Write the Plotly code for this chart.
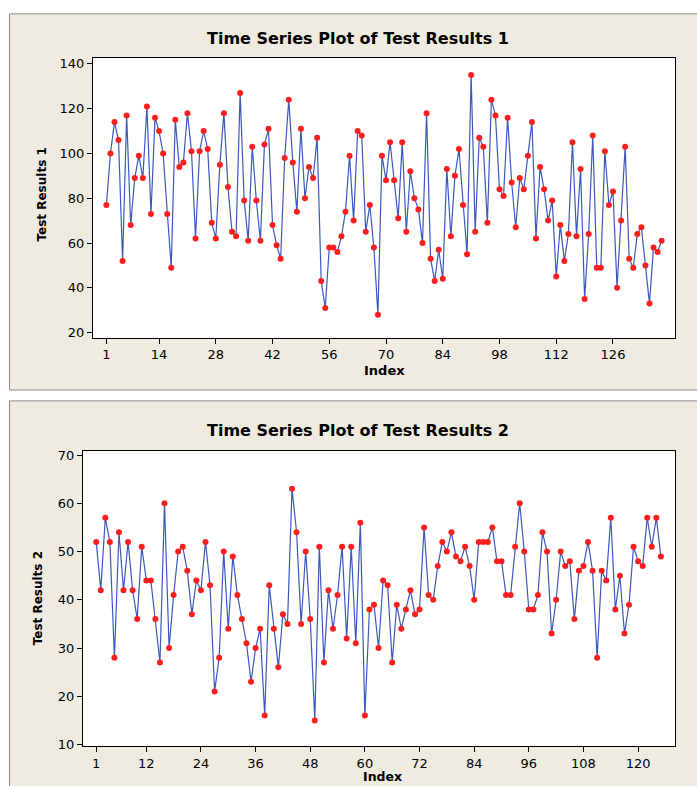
import plotly.graph_objects as go

W, H = 697, 786

results1 = [77, 100, 114, 106, 52, 117, 68, 89, 99, 89, 121, 73, 116, 110, 100, 73, 49, 115, 94, 96,
            118, 101, 62, 101, 110, 102, 69, 62, 95, 118, 85, 65, 63, 127, 79, 61, 103, 79, 61, 104,
            111, 68, 59, 53, 98, 124, 96, 74, 111, 80, 94, 89, 107, 43, 31, 58, 58, 56, 63, 74,
            99, 70, 110, 108, 65, 77, 58, 28, 99, 88, 105, 88, 71, 105, 65, 92, 80, 75, 60, 118,
            53, 43, 57, 44, 93, 63, 90, 102, 77, 55, 135, 65, 107, 103, 69, 124, 117, 84, 81, 116,
            87, 67, 89, 84, 99, 114, 62, 94, 84, 70, 79, 45, 68, 52, 64, 105, 63, 93, 35, 64,
            108, 49, 49, 101, 77, 83, 40, 70, 103, 53, 49, 64, 67, 50, 33, 58, 56, 61]

results2 = [52, 42, 57, 52, 28, 54, 42, 52, 42, 36, 51, 44, 44, 36, 27, 60, 30, 41, 50, 51,
            46, 37, 44, 42, 52, 43, 21, 28, 50, 34, 49, 41, 36, 31, 23, 30, 34, 16, 43, 34,
            26, 37, 35, 63, 54, 35, 50, 36, 15, 51, 27, 42, 34, 41, 51, 32, 51, 31, 56, 16,
            38, 39, 30, 44, 43, 27, 39, 34, 38, 42, 37, 38, 55, 41, 40, 47, 52, 50, 54, 49,
            48, 51, 47, 40, 52, 52, 52, 55, 48, 48, 41, 41, 51, 60, 50, 38, 38, 41, 54, 50,
            33, 40, 50, 47, 48, 36, 46, 47, 52, 46, 28, 46, 44, 57, 38, 45, 33, 39, 51, 48,
            47, 57, 51, 57, 49]

index1 = list(range(1, len(results1) + 1))
index2 = list(range(1, len(results2) + 1))

xticks1 = [1, 14, 28, 42, 56, 70, 84, 98, 112, 126]
yticks1 = [20, 40, 60, 80, 100, 120, 140]
xticks2 = [1, 12, 24, 36, 48, 60, 72, 84, 96, 108, 120]
yticks2 = [10, 20, 30, 40, 50, 60, 70]

title1 = "Time Series Plot of Test Results 1"
title2 = "Time Series Plot of Test Results 2"
ytitle1 = "Test Results 1"
ytitle2 = "Test Results 2"
xtitle = "Index"

LINE = "#3A58BE"
DOT = "#FF1E1E"
PANEL = "#EFEBE1"
FONT = "DejaVu Sans"


def px_x(p):
    return p / W


def px_y(p):
    return 1 - p / H


fig = go.Figure()
fig.add_trace(go.Scatter(x=index1, y=results1, mode="lines+markers",
                         line=dict(color=LINE, width=1.2),
                         marker=dict(color=DOT, size=6, line=dict(width=0)),
                         xaxis="x", yaxis="y", showlegend=False))
fig.add_trace(go.Scatter(x=index2, y=results2, mode="lines+markers",
                         line=dict(color=LINE, width=1.2),
                         marker=dict(color=DOT, size=6, line=dict(width=0)),
                         xaxis="x2", yaxis="y2", showlegend=False))

axis_common = dict(showgrid=False, zeroline=False, showline=True, linecolor="black",
                   linewidth=1, mirror=True, ticks="outside", ticklen=5, tickcolor="black",
                   tickfont=dict(family=FONT, size=13, color="black"))

fig.update_layout(
    width=W, height=H,
    margin=dict(l=0, r=0, t=0, b=0),
    paper_bgcolor="white",
    plot_bgcolor="white",
    xaxis=dict(domain=[px_x(93), px_x(675)], range=[-2.3, 141.3], tickvals=xticks1,
               anchor="y", **axis_common),
    yaxis=dict(domain=[px_y(338), px_y(55)], range=[17.7, 142.5], tickvals=yticks1,
               anchor="x", **axis_common),
    xaxis2=dict(domain=[px_x(83), px_x(675)], range=[-1.9, 128.1], tickvals=xticks2,
                anchor="y2", **axis_common),
    yaxis2=dict(domain=[px_y(752), px_y(453)], range=[9.6, 70.8], tickvals=yticks2,
                anchor="x2", **axis_common),
)

shapes = [
    dict(type="rect", xref="paper", yref="paper", x0=px_x(9.5), x1=px_x(720),
         y0=px_y(391), y1=px_y(10), fillcolor=PANEL, line=dict(color="#8A8A8A", width=1),
         layer="below"),
    dict(type="rect", xref="paper", yref="paper", x0=px_x(9.5), x1=px_x(720),
         y0=px_y(810), y1=px_y(402), fillcolor=PANEL, line=dict(color="#8A8A8A", width=1),
         layer="below"),
    dict(type="rect", xref="x domain", yref="y domain", x0=0, x1=1, y0=0, y1=1,
         fillcolor="white", line=dict(width=0), layer="below"),
    dict(type="rect", xref="x2 domain", yref="y2 domain", x0=0, x1=1, y0=0, y1=1,
         fillcolor="white", line=dict(width=0), layer="below"),
]
fig.update_layout(shapes=shapes)


def ann(text, x, y, size, angle=0):
    return dict(text="<b>" + text + "</b>", xref="paper", yref="paper",
                x=px_x(x), y=px_y(y), xanchor="center", yanchor="middle",
                showarrow=False, textangle=angle,
                font=dict(family=FONT, size=size, color="black"))


fig.update_layout(annotations=[
    ann(title1, 358, 35, 16),
    ann(title2, 358, 432, 16),
    ann(ytitle1, 42, 193, 12, -90),
    ann(ytitle2, 38, 602, 12, -90),
    ann(xtitle, 384, 371, 13),
    ann(xtitle, 383, 782, 12.5),
])

fig.write_html("out.html", config={"displayModeBar": False},
               post_script="document.body.style.margin='0px';")
